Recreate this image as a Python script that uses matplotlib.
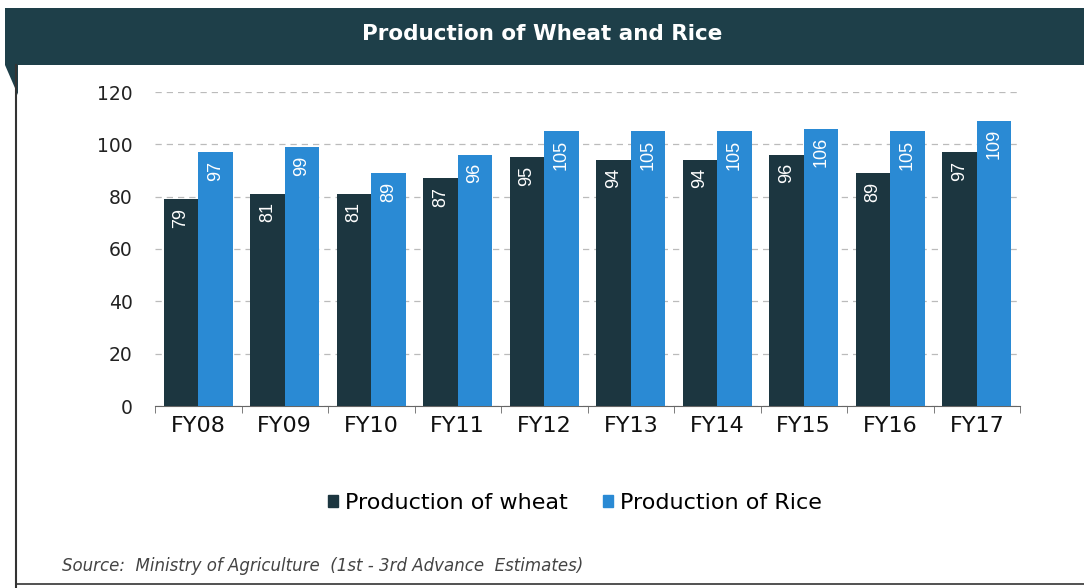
import matplotlib
matplotlib.use("Agg")
import matplotlib.pyplot as plt
from matplotlib.patches import Rectangle, Polygon
from matplotlib.lines import Line2D
import numpy as np

categories = ["FY08", "FY09", "FY10", "FY11", "FY12", "FY13", "FY14", "FY15", "FY16", "FY17"]
wheat = [79, 81, 81, 87, 95, 94, 94, 96, 89, 97]
rice = [97, 99, 89, 96, 105, 105, 105, 106, 105, 109]
yticks = [0, 20, 40, 60, 80, 100, 120]

wheat_color = "#1c3640"
rice_color = "#2a8ad4"
banner_color = "#1e3f49"

fig = plt.figure(figsize=(10.84, 5.88), dpi=100)
fig.patch.set_facecolor("white")

# banner
fig.patches.append(Rectangle((5/1084, 1-65/588), 1-5/1084, 57/588, transform=fig.transFigure,
                             facecolor=banner_color, edgecolor="none", zorder=0))
fig.patches.append(Polygon([(5/1084, 1-65/588), (18/1084, 1-65/588), (18/1084, 1-95/588)],
                           closed=True, transform=fig.transFigure, facecolor=banner_color,
                           edgecolor="none", zorder=0))
fig.text(542/1084, 1-34/588, "Production of Wheat and Rice", color="white", fontsize=15.5,
         fontweight="bold", ha="center", va="center", family="DejaVu Sans")
# frame lines
fig.add_artist(Line2D([16/1084, 16/1084], [1-65/588, 0], transform=fig.transFigure,
                      color="#333333", lw=1.5))
fig.add_artist(Line2D([16/1084, 1], [1-584/588, 1-584/588], transform=fig.transFigure,
                      color="#333333", lw=1.2))

ax = fig.add_axes([155/1084, 1-406/588, 865/1084, 314/588])
x = np.arange(len(categories))
w = 0.4
b1 = ax.bar(x - w/2, wheat, w, color=wheat_color, zorder=3)
b2 = ax.bar(x + w/2, rice, w, color=rice_color, zorder=3)

for bars, vals in ((b1, wheat), (b2, rice)):
    for bar, v in zip(bars, vals):
        ax.annotate(str(v), (bar.get_x() + bar.get_width()/2, v), xytext=(0, -6),
                    textcoords="offset points", rotation=90, ha="center", va="top",
                    color="white", fontsize=13, family="Liberation Sans", zorder=4)

ax.set_ylim(0, 120)
ax.set_xlim(-0.5, len(categories) - 0.5)
ax.set_yticks(yticks)
ax.set_yticklabels([str(t) for t in yticks], fontsize=13.5, family="DejaVu Sans", color="#222222")
ax.set_xticks(x)
ax.set_xticklabels(categories, fontsize=16, family="DejaVu Sans", color="#111111")
ax.tick_params(axis="x", length=0, pad=7)
ax.tick_params(axis="y", length=0, pad=16)
ax.set_xticks(np.arange(-0.5, len(categories), 1), minor=True)
ax.tick_params(axis="x", which="minor", length=5, color="#666666")
ax.yaxis.grid(True, linestyle=(0, (5, 4)), color="#bbbbbb", lw=0.9, zorder=0)
for s in ("top", "right", "left"):
    ax.spines[s].set_visible(False)
ax.spines["bottom"].set_color("#666666")

handles = [Rectangle((0, 0), 1, 1, color=wheat_color), Rectangle((0, 0), 1, 1, color=rice_color)]
fig.legend(handles, ["Production of wheat", "Production of Rice"], loc="center",
           bbox_to_anchor=(575/1084, 1-503/588), ncol=2, frameon=False,
           prop={"family": "DejaVu Sans", "size": 16}, handlelength=0.45, handleheight=0.45,
           handletextpad=0.3, columnspacing=1.6)

fig.text(62/1084, 1-566/588, "Source:  Ministry of Agriculture  (1st - 3rd Advance  Estimates)",
         fontsize=12, style="italic", color="#444444", ha="left", va="center",
         family="DejaVu Sans")

fig.savefig("out.png", dpi=100)
